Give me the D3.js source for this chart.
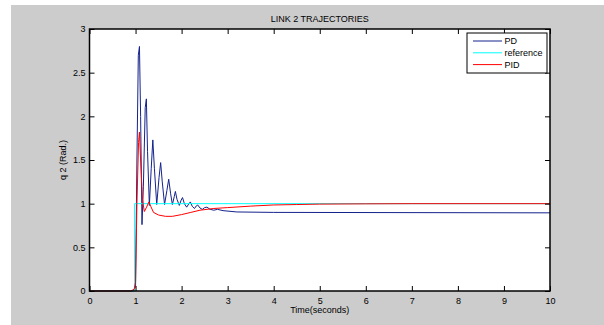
<!DOCTYPE html>
<html>
<head>
<meta charset="utf-8">
<script src="https://cdn.jsdelivr.net/npm/d3@7"></script>
<style>
html,body{margin:0;padding:0;background:#fff;}
svg{display:block;font-family:"Liberation Sans",Arial,sans-serif;}
</style>
</head>
<body>
<svg id="chart" width="604" height="325"></svg>
<script>
const title = "LINK 2 TRAJECTORIES";
const xLabel = "Time(seconds)";
const yLabel = "q 2 (Rad.)";
const xTicks = [0,1,2,3,4,5,6,7,8,9,10];
const yTicks = [0,0.5,1,1.5,2,2.5,3];
const seriesNames = ["PD","reference","PID"];
const seriesColors = ["#14238c","#00ffff","#ff0000"];

// PD response [time, value]
const pdTime = [0,0.95,1.0,1.03,1.06,1.085,1.11,1.14,1.17,1.21,1.235,1.26,1.30,1.34,1.375,1.41,1.46,1.51,1.545,1.58,1.63,1.68,1.72,1.76,1.80,1.84,1.865,1.90,1.95,1.99,2.02,2.06,2.11,2.16,2.19,2.23,2.28,2.32,2.35,2.40,2.45,2.50,2.55,2.62,2.70,2.78,2.9,3.2,4.0,10];
const pdValue = [0,0,0.05,1.5,2.7,2.8,2.0,0.76,1.2,2.1,2.2,1.6,0.98,1.4,1.73,1.4,0.99,1.3,1.47,1.25,0.99,1.15,1.28,1.12,0.99,1.08,1.14,1.05,0.98,1.04,1.07,1.0,0.96,1.0,1.02,0.97,0.945,0.975,0.985,0.95,0.935,0.955,0.96,0.935,0.925,0.935,0.92,0.905,0.9,0.895];

// reference step
const refTime = [0,0.98,0.98,10];
const refValue = [0,0,1,1];

// PID response
const pidTime = [0,0.9,0.97,1.0,1.03,1.065,1.085,1.11,1.15,1.19,1.24,1.29,1.33,1.39,1.5,1.65,1.8,2.0,2.2,2.4,2.7,3.0,3.5,4.0,4.5,5.0,6.0,7.0,10];
const pidValue = [0,0,0.02,0.1,1.0,1.7,1.82,1.5,1.05,0.91,0.96,1.02,0.97,0.9,0.87,0.855,0.855,0.875,0.9,0.925,0.945,0.955,0.972,0.985,0.99,0.995,0.998,1.0,1.0];

const svg = d3.select("#chart");
const W = 604, H = 325;
const plot = {left:89.5, right:550, top:29, bottom:291};

svg.append("rect").attr("x",11).attr("y",5).attr("width",W-11).attr("height",H-5).attr("fill","#cccccc");

const x = d3.scaleLinear().domain([0,10]).range([plot.left, plot.right]);
const y = d3.scaleLinear().domain([0,3]).range([plot.bottom, plot.top]);

svg.append("rect").attr("x",plot.left).attr("y",plot.top)
  .attr("width",plot.right-plot.left).attr("height",plot.bottom-plot.top).attr("fill","#fff");

const line = d3.line().x(d=>x(d[0])).y(d=>y(d[1]));
const series = [
  d3.zip(pdTime,pdValue),
  d3.zip(refTime,refValue),
  d3.zip(pidTime,pidValue)
];
const g = svg.append("g");
series.forEach((s,i)=>{
  g.append("path").datum(s).attr("d",line).attr("fill","none")
    .attr("stroke",seriesColors[i]).attr("stroke-width",1);
});

// axes (MATLAB-style inward ticks on all sides)
const tickLen = 5;
const axB = svg.append("g").attr("transform",`translate(0,${plot.bottom})`)
  .call(d3.axisBottom(x).tickValues(xTicks).tickSize(-tickLen).tickPadding(7).tickFormat(d3.format("d")));
const axT = svg.append("g").attr("transform",`translate(0,${plot.top})`)
  .call(d3.axisTop(x).tickValues(xTicks).tickSize(-tickLen).tickFormat(""));
const axL = svg.append("g").attr("transform",`translate(${plot.left},0)`)
  .call(d3.axisLeft(y).tickValues(yTicks).tickSize(-tickLen).tickPadding(4).tickFormat(d3.format("")));
const axR = svg.append("g").attr("transform",`translate(${plot.right},0)`)
  .call(d3.axisRight(y).tickValues(yTicks).tickSize(-tickLen).tickFormat(""));
[axB,axT,axL,axR].forEach(a=>{
  a.select(".domain").remove();
  a.selectAll(".tick line").attr("stroke","#000").attr("stroke-width",1);
  a.selectAll("text").attr("font-size",9).attr("fill","#000")
    .attr("font-family","'Liberation Sans',Arial,sans-serif");
});
svg.append("rect").attr("x",plot.left).attr("y",plot.top)
  .attr("width",plot.right-plot.left).attr("height",plot.bottom-plot.top)
  .attr("fill","none").attr("stroke","#000").attr("stroke-width",1.5);

// titles
svg.append("text").attr("x",(plot.left+plot.right)/2).attr("y",22)
  .attr("text-anchor","middle").attr("font-size",9).text(title);
svg.append("text").attr("x",(plot.left+plot.right)/2).attr("y",313)
  .attr("text-anchor","middle").attr("font-size",9).text(xLabel);
svg.append("text").attr("transform",`translate(66,${(plot.top+plot.bottom)/2}) rotate(-90)`)
  .attr("text-anchor","middle").attr("font-size",9).text(yLabel);

// legend
const lg = svg.append("g").attr("transform","translate(467,33)");
lg.append("rect").attr("width",80).attr("height",40).attr("fill","#fff")
  .attr("stroke","#000").attr("stroke-width",1);
seriesNames.forEach((n,i)=>{
  const yy = 8 + i*11.8;
  lg.append("line").attr("x1",6).attr("x2",35).attr("y1",yy).attr("y2",yy)
    .attr("stroke",seriesColors[i]).attr("stroke-width",1);
  lg.append("text").attr("x",37.5).attr("y",yy+3.2).attr("font-size",9).text(n);
});
</script>
</body>
</html>
